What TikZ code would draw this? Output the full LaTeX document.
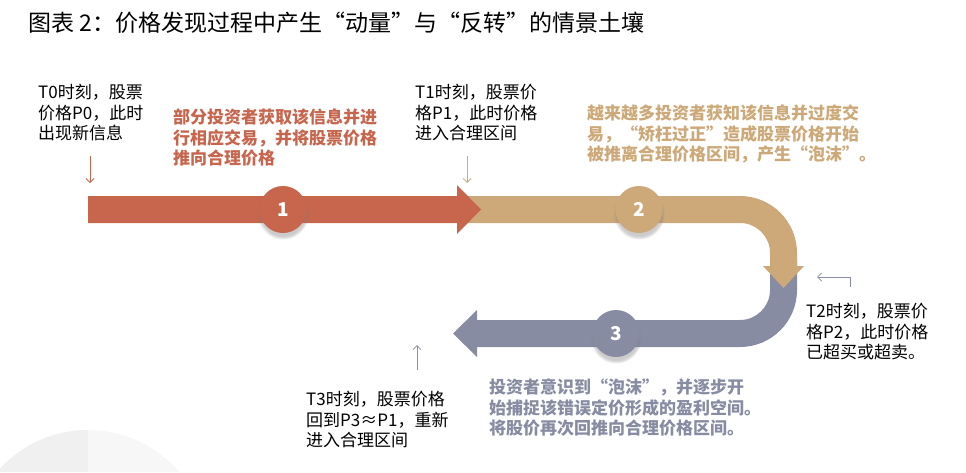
\documentclass[tikz,border=0pt]{standalone}
\usepackage{fontspec}
\setmainfont{Noto Sans CJK SC}
\usetikzlibrary{shadows,arrows.meta}
\definecolor{rust}{RGB}{199,101,77}
\definecolor{sand}{RGB}{205,168,120}
\definecolor{slate}{RGB}{135,140,163}
\tikzset{
  note/.style={anchor=north west, inner sep=0pt, align=left, font=\fontsize{17}{20.5}\selectfont},
  lead/.style={note, font=\fontsize{17}{20.5}\selectfont\bfseries},
  stepnum/.style={circle, minimum size=47pt, inner sep=0pt, text=white,
    font=\fontsize{19}{19}\selectfont\bfseries,
    circular drop shadow={shadow xshift=0pt, shadow yshift=-4pt, opacity=.4}},
  tick/.style={-{Straight Barb[length=4pt,width=8pt]}, line width=0.8pt}
}
\begin{document}
\begin{tikzpicture}[x=1pt,y=-1pt]
\useasboundingbox (0,0) rectangle (966,472);
% faint disc, bottom left
\begin{scope}
\clip (88,550) circle[radius=120];
\fill[black!6] (-40,420) rectangle (88,472);
\fill[black!3] (88,420) rectangle (220,472);
\end{scope}
\node[anchor=west, inner sep=0pt, font=\fontsize{23}{23}\selectfont] (title) at (28,23) {图表 2：价格发现过程中产生“动量”与“反转”的情景土壤};
% bands
\fill[slate] (797,262) -- (797,290) arc[start angle=0, end angle=90, radius=57] -- (477,347) -- (477,357) -- (453,333.5) -- (477,310) -- (477,320) -- (740,320) arc[start angle=90, end angle=0, radius=30] -- (770,262) -- cycle;
\fill[sand] (468,196) -- (740,196) arc[start angle=-90, end angle=0, radius=57] -- (797,266) -- (804,266) -- (783.5,288) -- (763,266) -- (770,266) -- (770,253) arc[start angle=0, end angle=-90, radius=30] -- (468,223) -- cycle;
\fill[rust] (88,196) -- (457,196) -- (457,185) -- (481,209.5) -- (457,234) -- (457,223) -- (88,223) -- cycle;
\node[stepnum, fill=rust] (c1) at (283,209.5) {1};
\node[stepnum, fill=sand] (c2) at (639,209.5) {2};
\node[stepnum, fill=slate] (c3) at (616,333.5) {3};
% notes
\node[note] (t0) at (38,84) {T0时刻，股票\\价格P0，此时\\出现新信息};
\node[note] (t1) at (415,84) {T1时刻，股票价\\格P1，此时价格\\进入合理区间};
\node[note] (t2) at (806,303) {T2时刻，股票价\\格P2，此时价格\\已超买或超卖。};
\node[note] (t3) at (306,391) {T3时刻，股票价格\\回到P3≈P1，重新\\进入合理区间};
\node[lead, text=rust] (s1) at (173,109) {部分投资者获取该信息并进\\行相应交易，并将股票价格\\推向合理价格};
\node[lead, text=sand] (s2) at (587,105) {越来越多投资者获知该信息并过度交\\易，“矫枉过正”造成股票价格开始\\被推离合理价格区间，产生“泡沫”。};
\node[lead, text=slate] (s3) at (489,379) {投资者意识到“泡沫”，并逐步开\\始捕捉该错误定价形成的盈利空间。\\将股价再次回推向合理价格区间。};
% markers
\coordinate (p0) at (90,156); \coordinate (q0) at (90,183);
\coordinate (p1) at (467,156); \coordinate (q1) at (467,183);
\coordinate (p2) at (850,287); \coordinate (q2) at (817,277);
\coordinate (p3) at (417,370); \coordinate (q3) at (417,345);
\draw[tick, rust] (p0) -- (q0);
\draw[tick, sand] (p1) -- (q1);
\draw[tick, slate] (p2) |- (q2);
\draw[tick, slate] (p3) -- (q3);
\end{tikzpicture}
\end{document}
